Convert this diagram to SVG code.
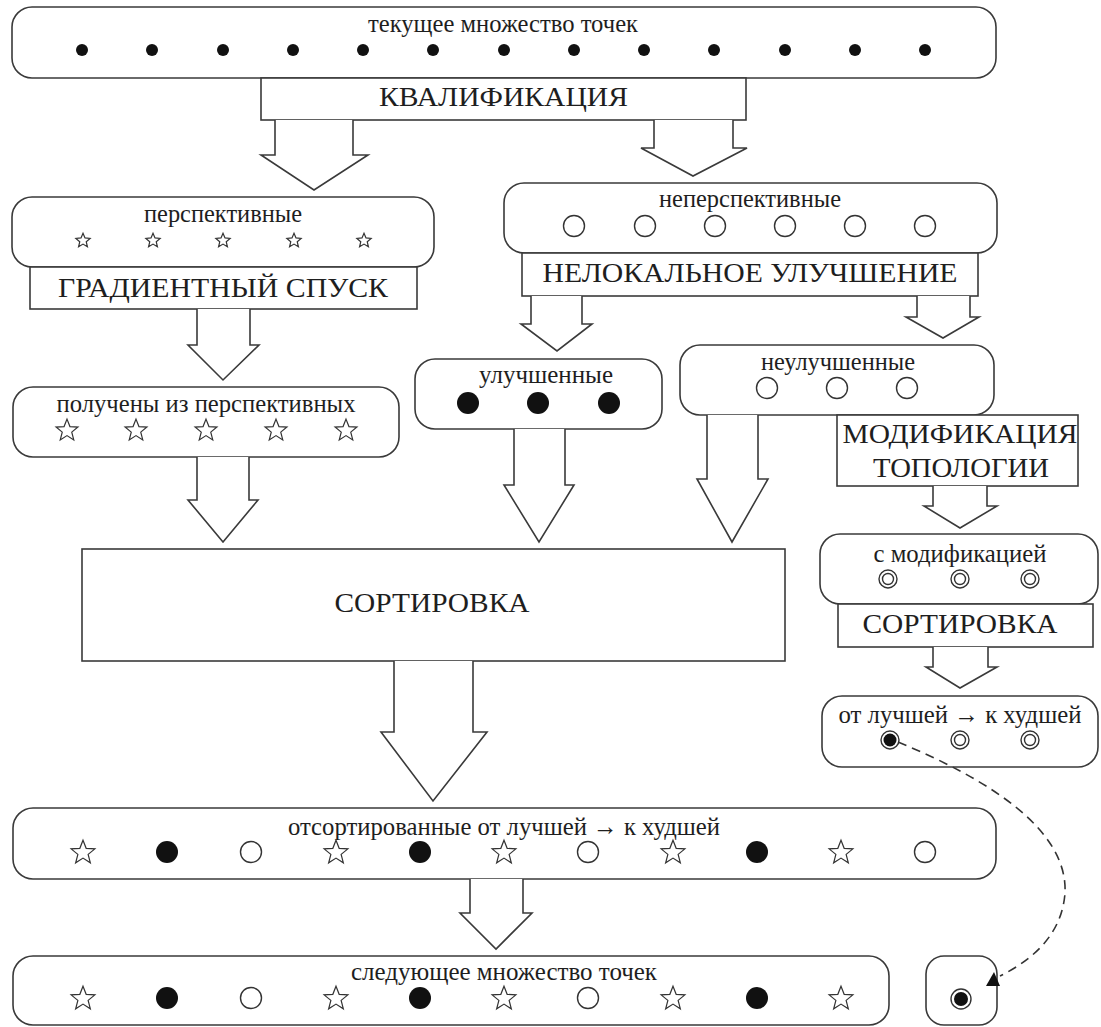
<svg xmlns="http://www.w3.org/2000/svg" width="1101" height="1027" viewBox="0 0 1101 1027">
  <style>
    .box { fill: #fff; stroke: #3a3a3a; stroke-width: 1.6; }
    .arr { fill: #fff; stroke: #3a3a3a; stroke-width: 1.6; stroke-linejoin: miter; }
    .t { font-family: "Liberation Serif", "Times New Roman", serif; fill: #1e1e1e; text-anchor: middle; }
    .cap { font-size: 28px; }
    .low { font-size: 26px; }
    .dot { fill: #111; }
    .ring { fill: #fff; stroke: #333; stroke-width: 1.4; }
    .star { fill: #fff; stroke: #333; stroke-width: 1.2; stroke-linejoin: miter; }
    .dash { fill: none; stroke: #333; stroke-width: 1.6; stroke-dasharray: 9 6; }
  </style>
  <defs>
    <polygon id="starS" class="star" points="0,-7.5 2,-2.75 7.13,-2.32 3.23,1.05 4.41,6.07 0,3.4 -4.41,6.07 -3.23,1.05 -7.13,-2.32 -2,-2.75"/>
    <polygon id="starM" class="star" points="0,-11.5 2.94,-4.05 10.94,-3.55 4.76,1.55 6.76,9.3 0,5 -6.76,9.3 -4.76,1.55 -10.94,-3.55 -2.94,-4.05"/>
    <polygon id="starL" class="star" points="0,-12.5 3.17,-4.37 11.89,-3.86 5.14,1.67 7.35,10.11 0,5.4 -7.35,10.11 -5.14,1.67 -11.89,-3.86 -3.17,-4.37"/>
    <circle id="dotS" class="dot" r="6"/>
    <circle id="dotL" class="dot" r="11"/>
    <circle id="open" class="ring" r="10.5"/>
    <g id="dbl"><circle class="ring" r="9"/><circle class="ring" r="5.5"/></g>
    <g id="best"><circle class="ring" r="9"/><circle class="dot" r="6.5"/></g>
    <g id="bestL"><circle class="ring" r="10"/><circle class="dot" r="7"/></g>
  </defs>

  <!-- current point set -->
  <g id="current-set">
    <rect class="box" x="12" y="7" width="984" height="71" rx="20"/>
    <text class="t low" x="503" y="32" textLength="270" lengthAdjust="spacingAndGlyphs">текущее множество точек</text>
    <use href="#dotS" x="82" y="50"/><use href="#dotS" x="152" y="50"/><use href="#dotS" x="223" y="50"/>
    <use href="#dotS" x="293" y="50"/><use href="#dotS" x="363" y="50"/><use href="#dotS" x="433" y="50"/>
    <use href="#dotS" x="504" y="50"/><use href="#dotS" x="574" y="50"/><use href="#dotS" x="644" y="50"/>
    <use href="#dotS" x="714" y="50"/><use href="#dotS" x="785" y="50"/><use href="#dotS" x="855" y="50"/>
    <use href="#dotS" x="925" y="50"/>
  </g>

  <g id="qualification">
    <rect class="box" x="261" y="78" width="485" height="42"/>
    <text class="t cap" x="503.5" y="106" textLength="249" lengthAdjust="spacingAndGlyphs">КВАЛИФИКАЦИЯ</text>
  </g>

  <g id="promising">
    <rect class="box" x="12" y="197" width="422" height="70" rx="20"/>
    <text class="t low" x="223" y="222" textLength="158" lengthAdjust="spacingAndGlyphs">перспективные</text>
    <use href="#starS" x="83" y="240.7"/><use href="#starS" x="153" y="240.7"/><use href="#starS" x="223" y="240.7"/>
    <use href="#starS" x="294" y="240.7"/><use href="#starS" x="364" y="240.7"/>
  </g>

  <g id="gradient-descent">
    <rect class="box" x="30" y="267" width="387" height="42"/>
    <text class="t cap" x="223" y="297" textLength="330" lengthAdjust="spacingAndGlyphs">ГРАДИЕНТНЫЙ СПУСК</text>
  </g>

  <g id="unpromising">
    <rect class="box" x="504" y="183" width="493" height="70" rx="20"/>
    <text class="t low" x="750" y="207" textLength="182" lengthAdjust="spacingAndGlyphs">неперспективные</text>
    <use href="#open" x="574" y="226"/><use href="#open" x="645" y="226"/><use href="#open" x="715" y="226"/>
    <use href="#open" x="785" y="226"/><use href="#open" x="855" y="226"/><use href="#open" x="925" y="226"/>
  </g>

  <g id="nonlocal-improvement">
    <rect class="box" x="522" y="253" width="456" height="43"/>
    <text class="t cap" x="750" y="282" textLength="415" lengthAdjust="spacingAndGlyphs">НЕЛОКАЛЬНОЕ УЛУЧШЕНИЕ</text>
  </g>

  <g id="from-promising">
    <rect class="box" x="13" y="387" width="386" height="70" rx="20"/>
    <text class="t low" x="206" y="412" textLength="299" lengthAdjust="spacingAndGlyphs">получены из перспективных</text>
    <use href="#starM" x="67" y="430.6"/><use href="#starM" x="136" y="430.6"/><use href="#starM" x="206" y="430.6"/>
    <use href="#starM" x="276" y="430.6"/><use href="#starM" x="346" y="430.6"/>
  </g>

  <g id="improved">
    <rect class="box" x="415" y="359" width="247" height="70" rx="20"/>
    <text class="t low" x="546" y="383" textLength="134" lengthAdjust="spacingAndGlyphs">улучшенные</text>
    <use href="#dotL" x="468" y="403"/><use href="#dotL" x="538" y="403"/><use href="#dotL" x="609" y="403"/>
  </g>

  <g id="not-improved">
    <rect class="box" x="680" y="345" width="314" height="70" rx="20"/>
    <text class="t low" x="838" y="370" textLength="154" lengthAdjust="spacingAndGlyphs">неулучшенные</text>
    <use href="#open" x="767" y="388"/><use href="#open" x="837" y="388"/><use href="#open" x="907" y="388"/>
  </g>

  <g id="topology-modification">
    <rect class="box" x="837" y="415" width="241" height="71"/>
    <text class="t cap" x="960" y="443" textLength="235" lengthAdjust="spacingAndGlyphs">МОДИФИКАЦИЯ</text>
    <text class="t cap" x="961" y="477" textLength="176" lengthAdjust="spacingAndGlyphs">ТОПОЛОГИИ</text>
  </g>

  <g id="modified">
    <rect class="box" x="820" y="534" width="278" height="70" rx="20"/>
    <text class="t low" x="960" y="562" textLength="173" lengthAdjust="spacingAndGlyphs">с модификацией</text>
    <use href="#dbl" x="888" y="579"/><use href="#dbl" x="960" y="579"/><use href="#dbl" x="1030" y="579"/>
  </g>

  <g id="sort-modified">
    <rect class="box" x="838" y="604" width="255" height="43"/>
    <text class="t cap" x="960" y="633" textLength="195" lengthAdjust="spacingAndGlyphs">СОРТИРОВКА</text>
  </g>

  <g id="modified-ranked">
    <rect class="box" x="822" y="696" width="276" height="71" rx="20"/>
    <text class="t low" x="960" y="723" textLength="243" lengthAdjust="spacingAndGlyphs">от лучшей → к худшей</text>
    <use href="#best" x="890" y="740"/><use href="#dbl" x="960" y="740"/><use href="#dbl" x="1030" y="740"/>
  </g>

  <g id="sorting">
    <rect class="box" x="82" y="549" width="703" height="112"/>
    <text class="t cap" x="432" y="612" textLength="195" lengthAdjust="spacingAndGlyphs">СОРТИРОВКА</text>
  </g>

  <g id="sorted-set">
    <rect class="box" x="13" y="808" width="983" height="71" rx="20"/>
    <text class="t low" x="504" y="835" textLength="432" lengthAdjust="spacingAndGlyphs">отсортированные от лучшей → к худшей</text>
    <use href="#starL" x="83" y="852.7"/>
    <use href="#dotL" x="167" y="852"/>
    <use href="#open" x="251" y="852"/>
    <use href="#starL" x="336" y="852.7"/>
    <use href="#dotL" x="420" y="852"/>
    <use href="#starL" x="504" y="852.7"/>
    <use href="#open" x="588" y="852"/>
    <use href="#starL" x="673" y="852.7"/>
    <use href="#dotL" x="757" y="852"/>
    <use href="#starL" x="841" y="852.7"/>
    <use href="#open" x="925" y="852"/>
  </g>

  <g id="next-set">
    <rect class="box" x="13" y="956" width="876" height="69" rx="20"/>
    <text class="t low" x="504" y="980" textLength="306" lengthAdjust="spacingAndGlyphs">следующее множество точек</text>
    <use href="#starL" x="83" y="998.7"/>
    <use href="#dotL" x="167" y="998"/>
    <use href="#open" x="251" y="998"/>
    <use href="#starL" x="336" y="998.7"/>
    <use href="#dotL" x="420" y="998"/>
    <use href="#starL" x="504" y="998.7"/>
    <use href="#open" x="588" y="998"/>
    <use href="#starL" x="673" y="998.7"/>
    <use href="#dotL" x="757" y="998"/>
    <use href="#starL" x="841" y="998.7"/>
  </g>

  <g id="best-carried">
    <rect class="box" x="926" y="956" width="71" height="69" rx="18"/>
    <use href="#bestL" x="961" y="999"/>
  </g>

  <!-- block arrows and the dashed transfer link -->
  <g id="connectors">
    <path class="arr" d="M275,120 V155 H261 L314,190 L368,155 H353 V120"/>
    <path class="arr" d="M654,120 V148 H641 L693,176 L747,148 H733 V120"/>
    <path class="arr" d="M197,309 V345 H188 L223,380 L259,345 H250 V309"/>
    <path class="arr" d="M531,296 V324 H521 L557,351 L592,324 H582 V296"/>
    <path class="arr" d="M917,296 V317 H906 L943,338 L979,317 H970 V296"/>
    <path class="arr" d="M197,457 V500 H188 L223,542 L258,500 H249 V457"/>
    <path class="arr" d="M514,429 V485 H504 L539,542 L574,485 H565 V429"/>
    <path class="arr" d="M707,415 V479 H697 L732,542 L768,479 H758 V415"/>
    <path class="arr" d="M933,486 V506 H924 L960,528 L997,506 H987 V486"/>
    <path class="arr" d="M933,647 V667 H926 L960,688 L997,667 H988 V647"/>
    <path class="arr" d="M394,661 V732 H381 L433,801 L487,732 H473 V661"/>
    <path class="arr" d="M470,879 V913 H460 L496,949 L532,913 H523 V879"/>
    <path class="dash" d="M898,742 C990,780 1068,830 1065,893 C1062,935 1032,960 1000,976"/>
    <polygon points="994,972 986,986 1000,986" fill="#111"/>
  </g>
</svg>
